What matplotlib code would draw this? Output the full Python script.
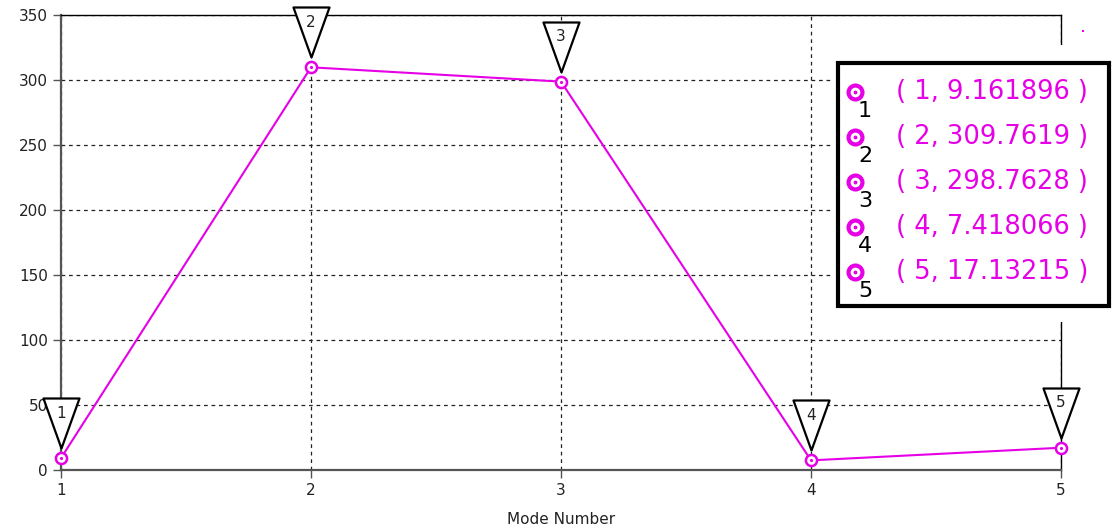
import matplotlib.pyplot as plt
from matplotlib.path import Path
from matplotlib.patches import Rectangle

# data
modes = [1, 2, 3, 4, 5]
values = [9.161896, 309.7619, 298.7628, 7.418066, 17.13215]
value_text = ["9.161896", "309.7619", "298.7628", "7.418066", "17.13215"]
y_ticks = [0, 50, 100, 150, 200, 250, 300, 350]

magenta = "#e600e6"

fig = plt.figure(figsize=(11.2, 5.31), dpi=100)
ax = fig.add_axes([61 / 1120, 1 - 470 / 531, 1000 / 1120, 455 / 531])

ax.set_xlim(1, 5)
ax.set_ylim(0, 350)
ax.set_xticks(modes)
ax.set_yticks(y_ticks)
ax.tick_params(labelsize=11, color="#555555", length=6, width=1, labelcolor="#222222")
ax.grid(True, color="#222222", linestyle=(0, (3, 3)), linewidth=0.9)
ax.set_xlabel("Mode Number", fontsize=11, color="#222222", labelpad=10)

for side in ["left", "bottom"]:
    ax.spines[side].set_color("#555555")
    ax.spines[side].set_linewidth(1.6)
for side in ["top", "right"]:
    ax.spines[side].set_color("black")
    ax.spines[side].set_linewidth(1.0)

# line with ring markers
ax.plot(modes, values, color=magenta, linewidth=1.5, marker="o", markersize=8,
        markerfacecolor="white", markeredgecolor=magenta, markeredgewidth=1.8,
        zorder=5, clip_on=False)
ax.plot(modes, values, linestyle="none", marker=".", markersize=2.5,
        color=magenta, zorder=6, clip_on=False)

# triangle flags above each point (tip 10 px above point)
tri = Path([(-18, 60), (18, 60), (0, 10), (-18, 60)],
           [Path.MOVETO, Path.LINETO, Path.LINETO, Path.CLOSEPOLY])
ax.plot(modes, values, linestyle="none", marker=tri, markersize=120 * 0.72,
        markerfacecolor="white", markeredgecolor="black", markeredgewidth=1.6,
        zorder=7, clip_on=False)
for m, v in zip(modes, values):
    ax.annotate(str(m), (m, v), xytext=(0, 45 * 0.72), textcoords="offset points",
                ha="center", va="center", fontsize=11, color="#222222",
                zorder=8, annotation_clip=False)

# legend box drawn by hand
fig.patches.append(Rectangle((832 / 1120, 1 - 322 / 531), 282 / 1120, 277 / 531,
                             transform=fig.transFigure, facecolor="white",
                             edgecolor="none", zorder=9))
fig.patches.append(Rectangle((838 / 1120, 1 - 306 / 531), 271 / 1120, 243 / 531,
                             transform=fig.transFigure, facecolor="white",
                             edgecolor="black", linewidth=3, zorder=10))
for i, (m, t) in enumerate(zip(modes, value_text)):
    yy = 1 - (92 + i * 45) / 531
    fig.lines.append(plt.Line2D([855 / 1120], [yy], transform=fig.transFigure,
                                marker="o", markersize=10, markerfacecolor="white",
                                markeredgecolor=magenta, markeredgewidth=3, zorder=11))
    fig.lines.append(plt.Line2D([855 / 1120], [yy], transform=fig.transFigure,
                                marker=".", markersize=3.5, color=magenta, zorder=12))
    fig.text(865 / 1120, yy - 19 / 531, str(m), fontsize=16, color="black",
             ha="center", va="center", zorder=12)
    fig.text(896 / 1120, yy, "( %d, %s )" % (m, t), fontsize=18.5, color=magenta,
             ha="left", va="center", zorder=12)

# stray mark top right
fig.lines.append(plt.Line2D([1083 / 1120], [1 - 31 / 531], transform=fig.transFigure,
                            marker="s", markersize=2, color=magenta, markeredgewidth=0))

fig.savefig("out.png", dpi=100)
